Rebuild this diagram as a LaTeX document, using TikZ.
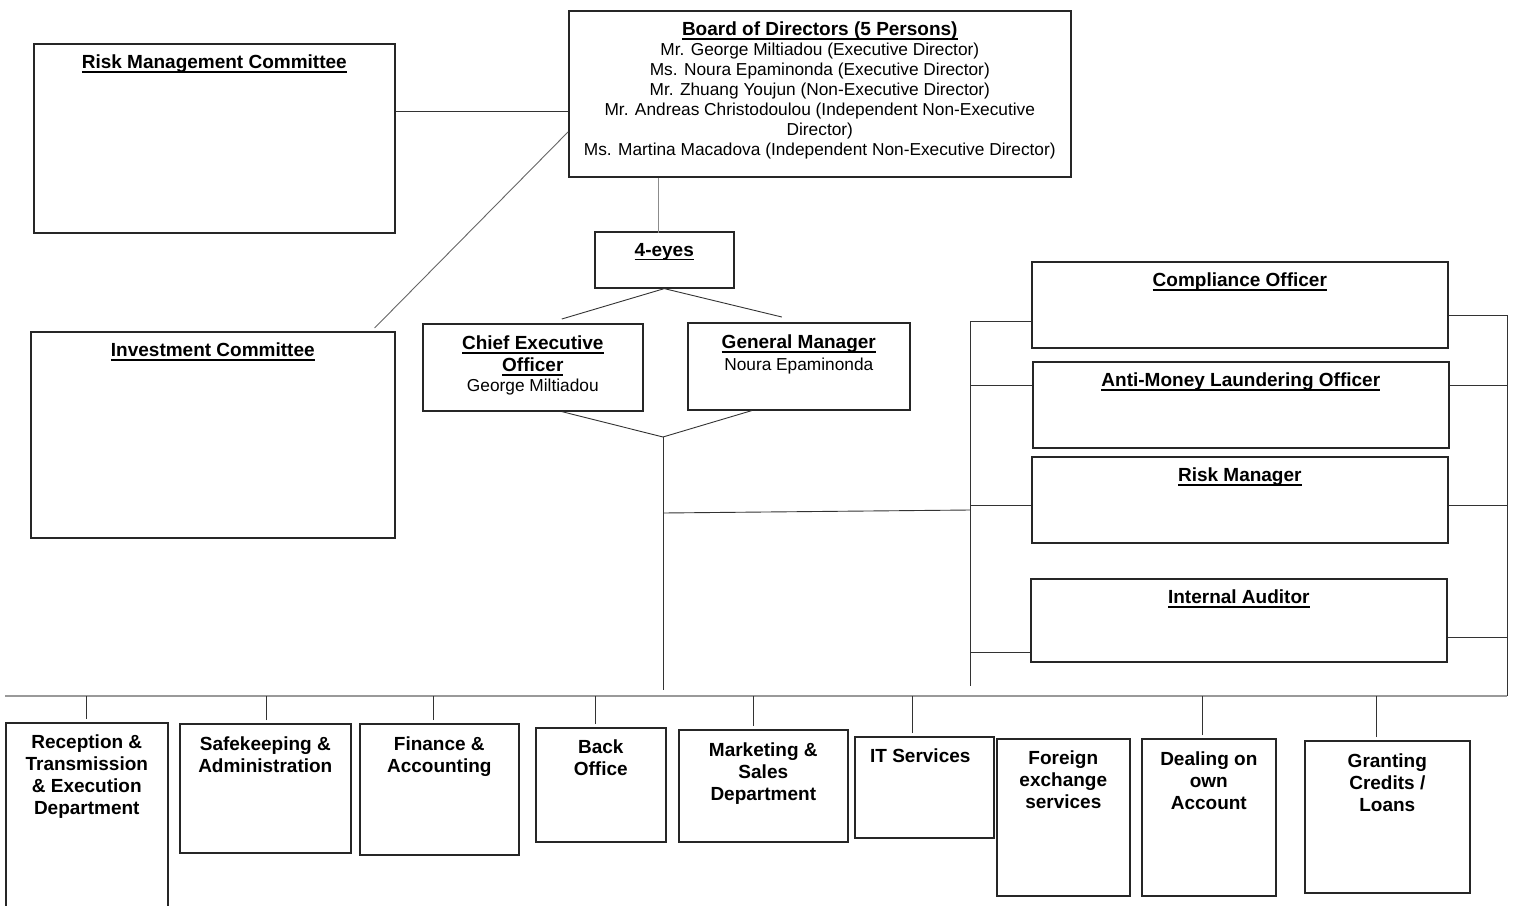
\documentclass[tikz,border=0pt]{standalone}
\usepackage{fontspec}
\setmainfont{Liberation Sans}
\usetikzlibrary{positioning,calc}
\newsavebox\ulbox
\newcommand\uln[1]{\sbox\ulbox{#1}\leavevmode\vtop{\hbox{\usebox\ulbox}\kern-\dp\ulbox\kern2.3pt\hrule height 1.5pt}}
\tikzset{unitbox/.style={draw=black!85,line width=1.6pt,anchor=north west,inner sep=0pt}}
\tikzset{ttl/.style={anchor=north,align=center,inner sep=0pt,
        font=\fontsize{19}{22}\selectfont\bfseries}}
\tikzset{sub/.style={anchor=north,align=center,inner sep=0pt,
        font=\fontsize{17.3}{20}\selectfont}}
\tikzset{wire/.style={draw=black!80,line width=0.9pt}}
\tikzset{bus/.style={draw=black!40,line width=1.6pt}}

\begin{document}
\begin{tikzpicture}[x=1pt,y=1pt]
    \useasboundingbox (0,0) rectangle (1518,-905);

    \node[unitbox,minimum width=502pt,minimum height=166pt] (board) at (568,-10) {};
    \node[unitbox,minimum width=361pt,minimum height=189pt] (rmc) at (33,-43) {};
    \node[unitbox,minimum width=364pt,minimum height=206pt] (ic) at (30,-331) {};
    \node[unitbox,minimum width=139pt,minimum height=56pt] (eyes) at (594,-231) {};
    \node[unitbox,minimum width=220pt,minimum height=87pt] (ceo) at (422,-323) {};
    \node[unitbox,minimum width=222pt,minimum height=87pt] (gm) at (687,-322) {};
    \node[unitbox,minimum width=416pt,minimum height=86pt] (comp) at (1031,-261) {};
    \node[unitbox,minimum width=416pt,minimum height=86pt] (aml) at (1032,-361) {};
    \node[unitbox,minimum width=416pt,minimum height=86pt] (rm) at (1031,-456) {};
    \node[unitbox,minimum width=416pt,minimum height=83pt] (ia) at (1030,-578) {};

    \node[unitbox,minimum width=162pt,minimum height=200pt] (rte) at (5,-722) {};
    \node[unitbox,minimum width=171pt,minimum height=129pt] (saf) at (179,-723) {};
    \node[unitbox,minimum width=159pt,minimum height=131pt] (fin) at (359,-723) {};
    \node[unitbox,minimum width=130pt,minimum height=114pt] (bo) at (535,-727) {};
    \node[unitbox,minimum width=169pt,minimum height=112pt] (mkt) at (678,-729) {};
    \node[unitbox,minimum width=139pt,minimum height=101pt] (its) at (854,-736) {};
    \node[unitbox,minimum width=133pt,minimum height=157pt] (fx) at (996,-738) {};
    \node[unitbox,minimum width=134pt,minimum height=157pt] (dol) at (1141,-738) {};
    \node[unitbox,minimum width=165pt,minimum height=152pt] (gcl) at (1304,-740) {};

    \node[sub,below=12pt of board.north] (boardT) {{\fontsize{19}{20}\selectfont\bfseries\uln{Board of Directors (5 Persons)}}\\
        Mr. George Miltiadou (Executive Director)\\
        Ms. Noura Epaminonda (Executive Director)\\
        Mr. Zhuang Youjun (Non-Executive Director)\\
        Mr. Andreas Christodoulou (Independent Non-Executive\\
        Director)\\
        Ms. Martina Macadova (Independent Non-Executive Director)};
    \node[ttl,below=12pt of rmc.north] (rmcT) {\uln{Risk Management Committee}};
    \node[ttl,below=12pt of ic.north] (icT) {\uln{Investment Committee}};
    \node[ttl,below=12pt of eyes.north] (eyesT) {\uln{4-eyes}};
    \node[ttl,below=13pt of ceo.north] (ceoT) {\uln{Chief Executive}\\\uln{Officer}\\[-2pt]
        {\fontsize{17.3}{20}\selectfont\mdseries George Miltiadou}};
    \node[ttl,below=13pt of gm.north] (gmT) {\uln{General Manager}\\
        {\fontsize{17.3}{20}\selectfont\mdseries Noura Epaminonda}};
    \node[ttl,below=12pt of comp.north] (compT) {\uln{Compliance Officer}};
    \node[ttl,below=12pt of aml.north] (amlT) {\uln{Anti-Money Laundering Officer}};
    \node[ttl,below=12pt of rm.north] (rmT) {\uln{Risk Manager}};
    \node[ttl,below=12pt of ia.north] (iaT) {\uln{Internal Auditor}};

    \node[ttl,below=13pt of rte.north] (rteT) {Reception \&\\Transmission\\\& Execution\\Department};
    \node[ttl,below=14pt of saf.north] (safT) {Safekeeping \&\\Administration};
    \node[ttl,below=14pt of fin.north] (finT) {Finance \&\\Accounting};
    \node[ttl,below=13pt of bo.north] (boT) {Back\\Office};
    \node[ttl,below=14pt of mkt.north] (mktT) {Marketing \&\\Sales\\Department};
    \node[ttl,below=13pt of its.north,xshift=-4pt] (itsT) {IT Services};
    \node[ttl,below=13pt of fx.north] (fxT) {Foreign\\exchange\\services};
    \node[ttl,below=14pt of dol.north] (dolT) {Dealing on\\own\\Account};
    \node[ttl,below=14pt of gcl.north] (gclT) {Granting\\Credits /\\Loans};

    \coordinate (jn) at (663,-437);
    \coordinate (lbar) at (970,-321);
    \coordinate (rbar) at (1507,-315);
    \coordinate (bus) at (5,-696);

    \draw[wire] (board.north west) ++(0,-101) coordinate (bw) -- (bw -| rmc.east);
    \draw[wire,draw=black!60] (board.north west) ++(0,-122) -- ($(ic.north east)+(-21,3)$);
    \draw[wire,draw=black!45] (board.south -| eyes.north) ++(-6,0) -- ++(0,-55);
    \draw[wire] (eyes.south) -- ($(ceo.north)+(29,4)$);
    \draw[wire] (eyes.south) -- ($(gm.north)+(-17,5)$);
    \draw[wire] (ceo.south) ++(29,0) -- (jn);
    \draw[wire] (gm.south) ++(-47,0) -- (jn);
    \draw[wire] (jn) -- (jn |- 0,-690);
    \draw[wire] (jn |- 0,-513) -- (lbar |- 0,-510);
    \draw[wire] (lbar) -- (lbar |- 0,-686);
    \draw[wire] (comp.north west) ++(0,-60) coordinate (t) -- (t -| lbar);
    \draw[wire] (aml.north west) ++(0,-24) coordinate (t) -- (t -| lbar);
    \draw[wire] (rm.north west) ++(0,-49) coordinate (t) -- (t -| lbar);
    \draw[wire] (ia.north west) ++(0,-74) coordinate (t) -- (t -| lbar);
    \draw[wire] (rbar) -- (rbar |- bus);
    \draw[wire] (comp.north east) ++(0,-54) coordinate (t) -- (t -| rbar);
    \draw[wire] (aml.north east) ++(0,-24) coordinate (t) -- (t -| rbar);
    \draw[wire] (rm.north east) ++(0,-49) coordinate (t) -- (t -| rbar);
    \draw[wire] (ia.north east) ++(0,-59) coordinate (t) -- (t -| rbar);
    \draw[bus] (bus) -- (bus -| rbar);
    \foreach \n/\d in {rte/0,saf/1,fin/-6,bo/-5,mkt/-10,its/-12,dol/-6,gcl/-11}
        \draw[wire] (\n.north) ++(\d,3) coordinate (t) -- (t |- bus);
\end{tikzpicture}
\end{document}
